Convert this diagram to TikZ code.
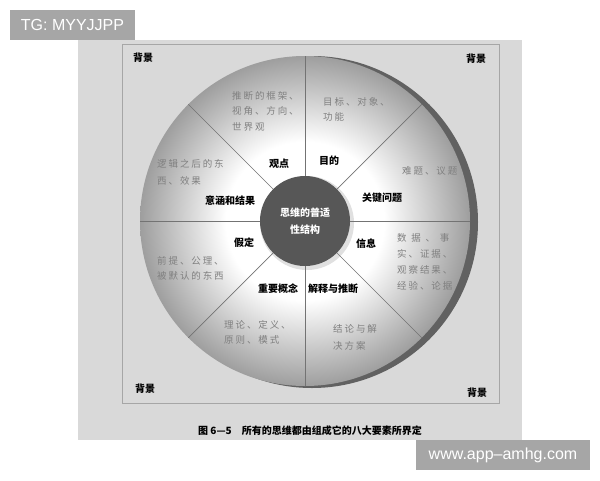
\documentclass[tikz,border=0pt]{standalone}
\usepackage{fontspec}
\setmainfont{Noto Sans CJK SC}
\newfontfamily\spacedcjk[LetterSpace=20]{Noto Sans CJK SC}
\newfontfamily\widecjk[LetterSpace=50]{Noto Sans CJK SC}
\newfontfamily\markfont{Liberation Sans}
\usetikzlibrary{calc}
\pgfdeclareradialshading{wheelshade}{\pgfpoint{0bp}{0bp}}{color(0bp)=(white); color(12bp)=(white); color(25bp)=(black!38); color(50bp)=(black!38)}
\begin{document}
\begin{tikzpicture}[x=1pt, y=-1pt,
    sector/.style={font=\bfseries\fontsize{10}{12}\selectfont, inner sep=0pt},
    content/.style={font=\spacedcjk\fontsize{9.5}{15.5}\selectfont, text=black!50, align=left, anchor=north west, inner sep=0pt},
    corner/.style={font=\bfseries\fontsize{10}{12}\selectfont, inner sep=0pt},
    watermark/.style={fill=black!35, text=white, font=\markfont\fontsize{16}{18}\selectfont, inner sep=0pt}]
    \useasboundingbox (0,0) rectangle (600,480);
    \fill[white] (0,0) rectangle (600,480);

    % Page and frame
    \fill[black!15] (78,40) rectangle (522,440);
    \draw[black!35, line width=0.8pt] (122,44) rectangle (499,403);
    \node[corner] (bgnw) at (143,58) {背景};
    \node[corner] (bgne) at (476,59) {背景};
    \node[corner] (bgsw) at (145,389) {背景};
    \node[corner] (bgse) at (477,393) {背景};

    % Wheel
    \fill[black!62] (312,222) circle (166pt);
    \shade[shading=wheelshade] (305,221) circle (165pt);
    \fill[black!12] (307,223) circle (47pt);
    \node[circle, fill=black!66, minimum size=90pt, inner sep=0pt, text=white, align=center,
        font=\bfseries\fontsize{10}{17}\selectfont] (core) at (305,221) {思维的普适\\性结构};
    \foreach \a in {0,45,...,315}
        \draw[black!55, line width=0.7pt] (core.\a) -- ($(core.center)+(\a:165pt)$);

    % Eight elements
    \node[sector] (view) at (279,164) {观点};
    \node[sector] (purpose) at (329,161) {目的};
    \node[sector] (question) at (382,198) {关键问题};
    \node[sector] (info) at (366,244) {信息};
    \node[sector] (infer) at (333,289) {解释与推断};
    \node[sector] (concept) at (278,289) {重要概念};
    \node[sector] (assume) at (244,243) {假定};
    \node[sector] (implic) at (230,201) {意涵和结果};

    % Descriptions
    \node[content] (viewtxt) at (232,91) {推断的框架、\\视角、方向、\\世界观};
    \node[content] (purposetxt) at (323,97) {目标、对象、\\功能};
    \node[content] (questiontxt) at (402,166) {难题、议题};
    \node[content, font=\spacedcjk\fontsize{9.5}{16}\selectfont] (infotxt) at (397,233) {{\widecjk 数据、事}\\实、证据、\\观察结果、\\经验、论据};
    \node[content, font=\spacedcjk\fontsize{9.5}{17}\selectfont] (infertxt) at (333,324) {结论与解\\决方案};
    \node[content] (concepttxt) at (224,320) {理论、定义、\\原则、模式};
    \node[content] (assumetxt) at (157,256) {前提、公理、\\被默认的东西};
    \node[content, font=\spacedcjk\fontsize{9.5}{17}\selectfont] (implictxt) at (157,159) {逻辑之后的东\\西、效果};

    % Caption
    \node[font=\bfseries\fontsize{10}{12}\selectfont, inner sep=0pt] (caption) at (310,431) {图 6—5\quad 所有的思维都由组成它的八大要素所界定};

    % Watermarks
    \node[watermark, minimum width=125pt, minimum height=30pt] (tag) at (72.5,25) {TG: MYYJJPP};
    \node[watermark, minimum width=174pt, minimum height=30pt] (site) at (503,455) {www.app–amhg.com};
\end{tikzpicture}
\end{document}
